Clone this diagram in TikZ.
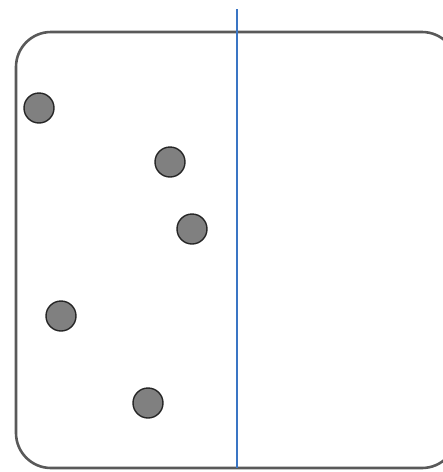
\documentclass[tikz,border=0pt]{standalone}
\begin{document}
\begin{tikzpicture}[x=1pt,y=-1pt,
  frame/.style={draw=black!65,line width=2.6pt,rounded corners=35pt},
  dot/.style={circle,draw=black!85,fill=black!50,line width=1.4pt,minimum size=30pt,inner sep=0pt},
  divider/.style={draw={rgb,255:red,58;green,117;blue,196},line width=1.3pt}]
\useasboundingbox (0,0) rectangle (443,472);
\draw[frame] (16,32) rectangle (457,468);
\coordinate (top) at (237,9);
\coordinate (bot) at (237,468);
\draw[divider] (top) -- (bot);
\node[dot] (d1) at (39,108) {};
\node[dot] (d2) at (170,162) {};
\node[dot] (d3) at (192,229) {};
\node[dot] (d4) at (61,316) {};
\node[dot] (d5) at (148,403) {};
\end{tikzpicture}
\end{document}
